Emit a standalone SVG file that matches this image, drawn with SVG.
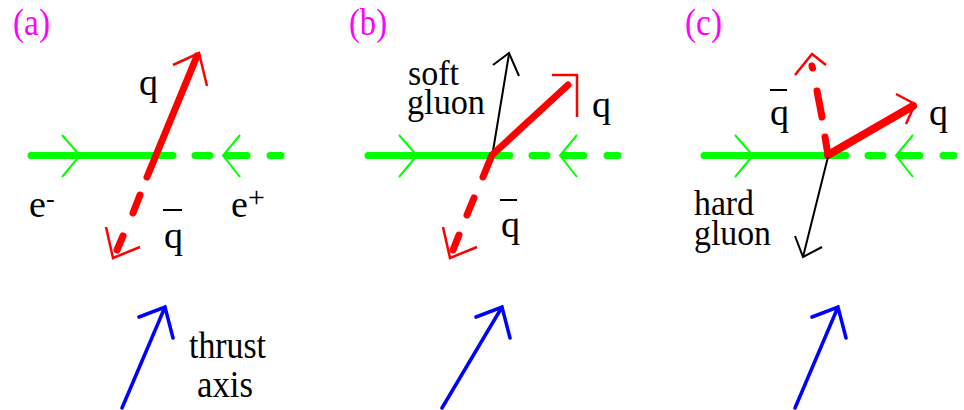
<svg xmlns="http://www.w3.org/2000/svg" width="964" height="410" viewBox="0 0 964 410" font-family="'Liberation Serif', 'Times New Roman', Times, Tinos, 'DejaVu Serif', 'Noto Serif', serif">
<style>
text{font-size:38px;fill:#000}
.lab{fill:#ff00ff}
.two{font-size:35px}
.beam{stroke:#00ff00;stroke-width:7;stroke-linecap:round;fill:none}
.ghead{stroke:#00ff00;stroke-width:2;fill:none}
.qs{stroke:#ff0000;stroke-width:7;stroke-linecap:round;stroke-linejoin:round;fill:none}
.rh{stroke:#ff0000;stroke-width:2.5;fill:none}
.gl{stroke:#000;stroke-width:2;fill:none}
.ax{stroke:#0000ff;stroke-width:3.5;fill:none;stroke-linecap:round}
.bar{stroke:#000;stroke-width:2}
</style>
<defs>
<g id="beamdef">
<path class="beam" d="M31,155.5 H173 M195,155.5 H210 M227,155.5 H247 M270,155.5 H281"/>
<path class="ghead" d="M62,135 L80,155.5 L62,177 M240,135 L223,155.5 L240,177"/>
</g>
</defs>
<g id="labels">
<text class="lab" x="13" y="35" textLength="37" lengthAdjust="spacingAndGlyphs">(a)</text>
<text class="lab" x="349" y="35" textLength="38" lengthAdjust="spacingAndGlyphs">(b)</text>
<text class="lab" x="685" y="35" textLength="37" lengthAdjust="spacingAndGlyphs">(c)</text>
</g>
<g id="connectors">
<use href="#beamdef"/>
<use href="#beamdef" transform="translate(337,0)"/>
<use href="#beamdef" transform="translate(673,0)"/>
<path class="qs" d="M147,177 L197,56"/>
<path class="rh" d="M173,65 L199,53 L207,86"/>
<path class="qs" d="M140,195 L133,213 M123,236 L117,250"/>
<path class="rh" d="M106,227 L113,258 L140,247"/>
<path class="gl" d="M492,157 L509,54"/>
<path class="gl" d="M493,65 L509,53 L519,76"/>
<path class="qs" d="M483,177 L492,155 L568,85"/>
<path class="rh" d="M552,75 L577,75 L577,117"/>
<path class="qs" d="M474,198 L467,215 M459,235 L453,250"/>
<path class="rh" d="M443,227 L450,258 L477,247"/>
<path class="qs" style="stroke-width:8" d="M828,155 L913,106"/>
<path class="rh" d="M896,94 L915,104 L906,124"/>
<path class="qs" d="M828,155 L825,137 M822,117 L817,91 M812.5,68 L812,66"/>
<path class="rh" d="M795,75 L812,54 L826,65"/>
<path class="gl" d="M828,157 L803,257"/>
<path class="gl" d="M795,236 L803,257 L822,247"/>
<path class="ax" d="M122,408 L165,307 M139,317 L165,307 L173,338"/>
<path class="ax" d="M442,408 L502,307 M476,317 L502,307 L510,338"/>
<path class="ax" d="M795,408 L838,307 M812,317 L838,307 L846,338"/>
</g>
<g id="text-a">
<text x="139" y="95">q</text>
<text x="29" y="217">e<tspan font-size="26" dy="-10">-</tspan></text>
<text x="231" y="217">e<tspan font-size="30" dy="-10">+</tspan></text>
<line class="bar" x1="163" y1="210" x2="182" y2="210"/>
<text x="164" y="248">q</text>
<text x="189" y="358" textLength="77" lengthAdjust="spacingAndGlyphs">thrust</text>
<text x="197" y="397" textLength="56" lengthAdjust="spacingAndGlyphs">axis</text>
</g>
<g id="text-b">
<text class="two" x="408" y="85" textLength="51" lengthAdjust="spacingAndGlyphs">soft</text>
<text class="two" x="407" y="114" textLength="78" lengthAdjust="spacingAndGlyphs">gluon</text>
<text x="592" y="117">q</text>
<line class="bar" x1="500" y1="200" x2="517" y2="200"/>
<text x="501" y="237">q</text>
</g>
<g id="text-c">
<line class="bar" x1="770" y1="90" x2="787" y2="90"/>
<text x="770" y="125">q</text>
<text x="929" y="125">q</text>
<text class="two" x="694" y="215" textLength="60" lengthAdjust="spacingAndGlyphs">hard</text>
<text class="two" x="694" y="245" textLength="77" lengthAdjust="spacingAndGlyphs">gluon</text>
</g>
</svg>
